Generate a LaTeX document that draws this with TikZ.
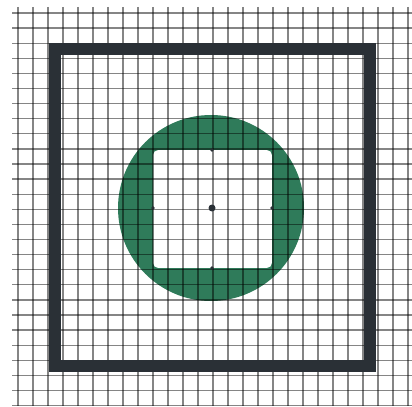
\documentclass[tikz,border=0pt]{standalone}
\usepackage{tikz}
\usetikzlibrary{calc}
\usepackage{xcolor}
\definecolor{framec}{HTML}{2A3036}
\definecolor{ringc}{HTML}{2F7B5A}

\begin{document}
\begin{tikzpicture}[x=0.025cm, y=-0.025cm]
  \useasboundingbox (0,0) rectangle (412,406);
  \fill[white] (0,0) rectangle (412,406);
  % green disc with the square cut out
  \fill[ringc, even odd rule] (211,208) circle (93)
    [rounded corners=3.5pt] (153,150) rectangle (272,268);
  % squared paper
  \foreach \gx in {0,...,26}
    \draw[black, draw opacity=0.48, line width=0.9pt] ({18+15*\gx},7) -- ({18+15*\gx},406);
  \foreach \gy in {0,...,26}
    \draw[black, draw opacity=0.48, line width=0.9pt] (12,{13+15.1*\gy}) -- (412,{13+15.1*\gy});
  % outer frame
  \draw[framec, line width=9.2pt, line join=miter] (55,49) rectangle (370,366);
  % marks on the inner square and its centre
  \fill[framec] (212,150) circle (1.8);
  \fill[framec] (212,268) circle (1.8);
  \fill[framec] (153,208) circle (1.8);
  \fill[framec] (272,208) circle (1.8);
  \coordinate (centre) at (212,208);
  \fill[framec] (centre) circle (3.5);
\end{tikzpicture}
\end{document}
